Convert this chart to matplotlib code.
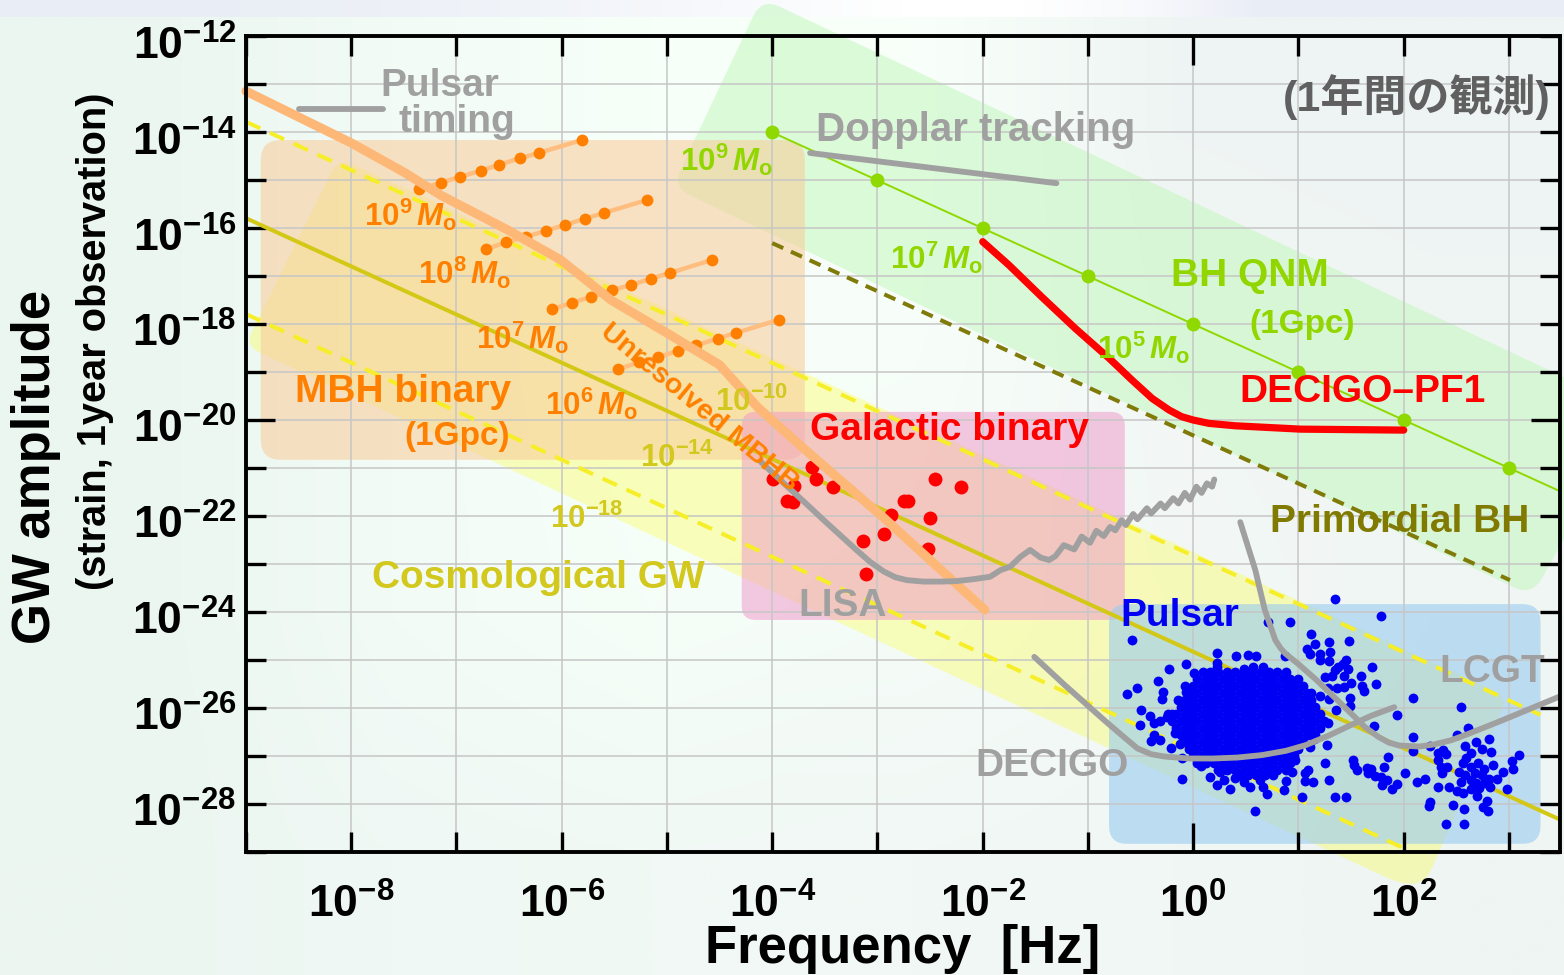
import numpy as np
import matplotlib
matplotlib.use("Agg")
import matplotlib.pyplot as plt
from matplotlib.colors import to_rgb
from matplotlib.ticker import NullLocator
from matplotlib.transforms import ScaledTranslation

plt.rcParams['font.family'] = ['Liberation Sans', 'Noto Sans CJK JP', 'DejaVu Sans']
plt.rcParams['font.weight'] = 'bold'
plt.rcParams['mathtext.fontset'] = 'custom'
plt.rcParams['mathtext.rm'] = 'Liberation Sans:bold'
plt.rcParams['mathtext.bf'] = 'Liberation Sans:bold'
plt.rcParams['mathtext.it'] = 'Liberation Sans:italic:bold'
plt.rcParams['mathtext.bfit'] = 'Liberation Sans:italic:bold'

# ---- all values are log10(frequency [Hz]) and log10(strain) ----
x_ticks = [-9, -8, -7, -6, -5, -4, -3, -2, -1, 0, 1, 2, 3]
x_labelled = [-8, -6, -4, -2, 0, 2]
y_ticks = [-12, -13, -14, -15, -16, -17, -18, -19, -20, -21, -22, -23, -24, -25, -26, -27, -28, -29]
y_labelled = [-12, -14, -16, -18, -20, -22, -24, -26, -28]

mbh_f = [-8.86, -3.69, -3.69, -8.86]
mbh_h = [-14.16, -14.16, -20.83, -20.83]
gal_f = [-4.29, -0.65, -0.65, -4.29]
gal_h = [-19.83, -19.83, -24.17, -24.17]
psr_f = [-0.80, 3.30, 3.30, -0.80]
psr_h = [-23.84, -23.84, -28.84, -28.84]
cosmo_f = [-8.12, 2.99, 2.20, 1.97, -9.01]
cosmo_h = [-14.53, -25.78, -29.68, -29.68, -18.45]
qnm_f = [-4.10, 4.20, 3.22, -4.95]
qnm_h = [-11.20, -19.81, -23.67, -15.14]

cosmo_mid_f = [-9, 3.49]
cosmo_mid_h = [-15.79, -28.34]
cosmo_hi_f = [-9, 3.30]
cosmo_hi_h = [-13.78, -26.15]
cosmo_lo_f = [-9, 2]
cosmo_lo_h = [-17.79, -28.93]
pbh_f = [-4, 3.01]
pbh_h = [-16.31, -23.34]

qnm_line_f = [-4, 3.49]
qnm_line_h = [-14, -21.49]
qnm_pts_f = [-4, -3, -2, -1, 0, 1, 2, 3]
qnm_pts_h = [-14, -15, -16, -17, -18, -19, -20, -21]

decigo_pf1_f = [-2.0, -1.75, -1.44, -1.12, -0.80, -0.58, -0.39, -0.23, -0.11, 0, 0.15, 0.40, 1.02, 1.50, 2.0]
decigo_pf1_h = [-16.28, -16.77, -17.43, -18.09, -18.71, -19.17, -19.55, -19.79, -19.93, -20.0, -20.07, -20.12, -20.19, -20.20, -20.21]

unres_f = [-9, -8, -7.50, -7.15, -6.51, -6.01, -5.53, -5.02, -4.50, -4.14, -3.76, -2.95, -1.98]
unres_h = [-13.14, -14.22, -14.83, -15.31, -16.04, -16.66, -17.50, -18.16, -18.85, -19.73, -20.48, -22.02, -23.96]

track9_f = [-7.36, -7.15, -6.97, -6.77, -6.60, -6.40, -6.22, -5.81]
track9_h = [-15.19, -15.05, -14.93, -14.80, -14.68, -14.54, -14.43, -14.16]
track8_f = [-6.72, -6.53, -6.34, -6.15, -5.97, -5.78, -5.60, -5.19]
track8_h = [-16.44, -16.29, -16.18, -16.05, -15.93, -15.80, -15.68, -15.41]
track7_f = [-6.09, -5.90, -5.72, -5.52, -5.34, -5.15, -4.97, -4.57]
track7_h = [-17.69, -17.55, -17.43, -17.29, -17.18, -17.05, -16.93, -16.66]
track6_f = [-5.47, -5.27, -5.09, -4.90, -4.72, -4.52, -4.34, -3.94]
track6_h = [-18.94, -18.80, -18.69, -18.56, -18.44, -18.30, -18.18, -17.91]

gb_f = [-3.99, -3.79, -3.86, -3.80, -3.62, -3.58, -3.42, -2.87, -2.94, -3.14, -3.11, -2.75, -2.71, -2.45, -2.21, -2.50, -2.52]
gb_h = [-21.22, -21.38, -21.69, -21.70, -20.99, -21.22, -21.39, -21.98, -22.38, -22.52, -23.21, -21.69, -21.69, -21.22, -21.39, -22.04, -22.68]

ptiming_f = [-8.50, -7.70]
ptiming_h = [-13.51, -13.51]
doppler_f = [-3.64, -1.30]
doppler_h = [-14.43, -15.06]
lisa_f = [-4.11, -3.89, -3.70, -3.51, -3.35, -3.20, -3.07, -2.94, -2.83, -2.72, -2.56, -2.40, -2.25, -2.09, -1.93,
          -1.83, -1.74, -1.64, -1.55, -1.45, -1.37, -1.31, -1.23, -1.13, -1.06, -0.98, -0.92, -0.85, -0.79, -0.74,
          -0.68, -0.64, -0.57, -0.53, -0.44, -0.40, -0.31, -0.27, -0.19, -0.14, -0.08, -0.03, 0.03, 0.08, 0.13, 0.18, 0.20]
lisa_h = [-20.87, -21.32, -21.70, -22.09, -22.41, -22.71, -22.96, -23.16, -23.28, -23.34, -23.37, -23.37, -23.36, -23.32, -23.27,
          -23.13, -23.06, -22.85, -22.71, -22.87, -22.92, -22.84, -22.61, -22.70, -22.43, -22.56, -22.31, -22.42, -22.23, -22.30,
          -22.09, -22.19, -21.96, -22.07, -21.84, -21.95, -21.74, -21.84, -21.63, -21.74, -21.52, -21.66, -21.39, -21.52, -21.32, -21.39, -21.24]
decigo_f = [-1.51, -1.22, -0.83, -0.66, -0.53, -0.40, -0.27, -0.04, 0.19, 0.42, 0.65, 0.88, 1.07, 1.30, 1.50, 1.69, 1.91]
decigo_h = [-24.94, -25.53, -26.29, -26.61, -26.85, -26.97, -27.02, -27.06, -27.06, -27.04, -26.99, -26.90, -26.78, -26.57, -26.36, -26.17, -25.99]
lcgt_f = [0.447, 0.59, 0.68, 0.78, 0.83, 0.875, 1.01, 1.17, 1.50, 1.63, 1.76, 1.86, 1.96, 2.15, 2.28, 2.45, 2.61, 2.94, 3.49]
lcgt_h = [-22.13, -23.13, -23.96, -24.59, -24.76, -24.87, -25.11, -25.42, -26.12, -26.40, -26.61, -26.73, -26.79, -26.81, -26.77, -26.68, -26.55, -26.26, -25.76]

psr_pts = [
 (-0.58,-24.58),(1.35,-23.73),(0.92,-24.21),(0.71,-24.21),(1.78,-24.08),(1.12,-24.47),(1.16,-24.67),(1.29,-24.62),(1.48,-24.60),
 (1.08,-24.78),(1.20,-24.87),(1.30,-24.84),(1.11,-24.89),(1.20,-25.01),(1.29,-25.02),(0.87,-24.92),(0.23,-24.85),(0.41,-24.92),
 (0.52,-24.91),(0.60,-24.92),(0.23,-25.06),(0.23,-25.16),(-0.07,-25.09),(-0.23,-25.19),(0.01,-25.27),(0.09,-25.26),(0.48,-25.19),
 (0.57,-25.15),(0.66,-25.15),(1.45,-25.01),(1.42,-25.08),(1.38,-25.15),(1.47,-25.19),(1.35,-25.22),(1.32,-25.34),(1.25,-25.37),
 (1.43,-25.34),(1.70,-25.15),(1.59,-25.33),(1.50,-25.49),(1.43,-25.56),(1.37,-25.58),(1.60,-25.55),(1.62,-25.66),(1.74,-25.50),
 (1.28,-25.58),(1.49,-25.80),(1.49,-25.97),(1.20,-25.76),(1.29,-25.81),(-0.33,-25.45),(-0.53,-25.58),(-0.63,-25.72),(-0.29,-25.67),
 (-0.30,-25.82),(-0.08,-25.55),(-0.07,-25.67),(-0.14,-25.84),(-0.50,-26.04),(-0.41,-26.17),(-0.37,-26.31),(-0.32,-26.27),(-0.51,-26.37),
 (-0.25,-26.19),(-0.20,-26.13),(-0.17,-26.52),(-0.37,-26.58),(-0.40,-26.69),(-0.32,-26.68),(-0.21,-26.84),(-0.13,-26.76),(-0.11,-27.06),
 (-0.11,-27.49),(0.07,-27.21),(0.16,-27.44),(0.25,-27.34),(0.29,-27.51),(0.23,-27.61),(0.35,-27.70),(0.40,-27.47),(0.48,-27.55),
 (0.54,-27.65),(0.63,-27.51),(0.66,-27.65),(0.70,-27.81),(0.59,-28.15),(0.86,-27.72),(0.88,-27.52),(0.94,-27.34),(1.06,-27.36),
 (1.09,-27.30),(1.06,-27.52),(1.14,-27.55),(1.29,-27.50),(1.03,-27.87),(1.35,-27.86),(1.45,-27.86),(1.25,-27.15),(0.97,-27.09),
 (1.11,-26.83),(1.27,-26.78),(1.15,-26.66),(1.28,-26.33),(1.36,-26.05),(1.72,-26.38),(1.94,-26.15),(2.09,-25.79),(2.54,-25.98),
 (2.09,-26.61),(2.25,-26.79),(2.09,-26.90),(1.85,-27.02),(1.52,-27.09),(1.53,-27.20),(1.56,-27.30),(1.65,-27.25),(1.69,-27.28),
 (1.66,-27.37),(1.73,-27.42),(1.81,-27.23),(1.78,-27.45),(1.84,-27.51),(1.79,-27.61),(1.89,-27.70),(1.94,-27.60),(2.01,-27.37),
 (2.13,-27.55),(2.20,-27.49),(2.33,-27.65),(2.43,-27.66),(2.51,-27.74),(2.56,-27.79),(2.25,-27.96),(2.24,-28.05),(2.47,-28.02),
 (2.57,-28.12),(2.75,-28.08),(2.79,-27.95),(2.80,-28.15),(2.40,-28.43),(2.57,-28.43),(2.98,-27.69),(2.70,-27.84),(2.64,-27.70),
 (2.72,-27.68),(2.82,-27.65),(2.89,-27.49),(2.94,-27.34),(3.04,-27.28),(3.03,-27.11),(3.10,-26.98),(2.85,-27.20),(2.83,-26.92),
 (2.81,-26.66),(2.74,-26.87),(2.69,-26.72),(2.61,-26.43),(2.51,-26.58),(2.58,-26.80),(2.64,-26.95),(2.59,-27.06),(2.56,-27.16),
 (2.53,-27.35),(2.58,-27.41),(2.54,-27.56),(2.37,-26.88),(2.40,-26.97),(2.33,-26.95),(2.33,-27.09),(2.41,-27.23),(2.36,-27.36),
 (2.35,-27.23),(2.64,-27.23),(2.71,-27.16),(2.76,-27.27),(2.68,-27.37),(2.74,-27.41),(2.81,-27.48),(2.64,-27.51),(2.69,-27.58),(2.76,-27.58),
]
psr_outer_f = [p[0] for p in psr_pts]
psr_outer_h = [p[1] for p in psr_pts]

# the saturated pulsar cluster, read row by row
core_h = [-25.25, -25.40, -25.54, -25.69, -25.83, -25.98, -26.13, -26.27, -26.42, -26.56, -26.71, -26.86, -27.00, -27.15, -27.30, -27.41]
core_f = [
 [.16,.24,.32,.40,.48,.56,.64,.72,.80,.88],
 [.04,.12,.20,.28,.36,.44,.52,.60,.68,.76,.84,.92,1.00],
 [0,.08,.16,.24,.32,.40,.48,.56,.64,.72,.80,.88,.96,1.04],
 [-.04,.04,.12,.20,.28,.36,.44,.52,.60,.68,.76,.84,.92,1.00,1.08,1.12],
 [-.08,0,.08,.16,.24,.32,.40,.48,.56,.64,.72,.80,.88,.96,1.04,1.12],
 [-.12,-.04,.04,.12,.20,.28,.36,.44,.52,.60,.68,.76,.84,.92,1.00,1.08,1.16],
 [-.24,-.16,-.08,0,.08,.16,.24,.32,.40,.48,.56,.64,.72,.80,.88,.96,1.04,1.12,1.20],
 [-.20,-.12,-.04,.04,.12,.20,.28,.36,.44,.52,.60,.68,.76,.84,.92,1.00,1.08,1.16,1.24],
 [-.16,-.08,0,.08,.16,.24,.32,.40,.48,.56,.64,.72,.80,.88,.96,1.04,1.12,1.20],
 [-.12,-.04,.04,.12,.20,.28,.36,.44,.52,.60,.68,.76,.84,.92,1.00,1.08,1.16],
 [-.08,0,.08,.16,.24,.32,.40,.48,.56,.64,.72,.80,.88,.96,1.04],
 [-.04,.04,.12,.20,.28,.36,.44,.52,.60,.68,.76,.84,.92,1.00],
 [0,.08,.16,.24,.32,.40,.48,.56,.64,.72,.80,.88,.96],
 [.04,.12,.20,.28,.36,.44,.52,.60,.68,.76,.84,.92],
 [.24,.32,.40,.48,.56,.64,.72,.80,.88],
 [.44,.52,.60,.68,.76],
]

# ---- styling ----
W, H = 1564, 975
fig = plt.figure(figsize=(W / 100, H / 100), dpi=100)

bg = fig.add_axes([0, 0, 1, 1], zorder=-1)
bg.axis('off')
bg_cols = [
    ['#ebf6f0', '#f2fbf6', '#f7fff9', '#f9fffa', '#eff5f3', '#eef4f3'],
    ['#ebf6f0', '#f2fbf6', '#f7fff9', '#f7fef9', '#f2f7f5', '#f0f6f4'],
    ['#ebf6f0', '#f2fbf6', '#f6fef8', '#f5fcf8', '#f3f8f6', '#f0f6f3'],
    ['#ecf6f1', '#eff8f4', '#f1f9f5', '#f1f8f5', '#f1f7f4', '#eff5f3'],
]
top_strip = ['#e9edf5', '#e9edf5', '#ebeff6', '#eef1f7', '#f1f4f9', '#f5f7fb', '#fafbfd',
             '#ffffff', '#ffffff', '#f8f9fc', '#e9edf6', '#e9edf6', '#e9edf6']
bg.imshow([[to_rgb(c) for c in row] for row in bg_cols], aspect='auto', interpolation='bilinear',
          extent=(0, W, H, 17))
bg.imshow([[to_rgb(c) for c in top_strip]], aspect='auto', interpolation='bilinear', extent=(0, W, 17, 0))
bg.set_xlim(0, W)
bg.set_ylim(H, 0)

ax = fig.add_axes([246 / W, 1 - 851.5 / H, 1314 / W, 815 / H])
ax.set_facecolor('none')
ax.set_xscale('log')
ax.set_yscale('log')

PX, PY = 105.25, 47.94


def rounded(lf, lh, r=18, n=8):
    p = np.column_stack([np.array(lf) * PX, np.array(lh) * PY])
    out = []
    m = len(p)
    for i in range(m):
        a, b, c = p[i - 1], p[i], p[(i + 1) % m]
        u = (a - b) / np.linalg.norm(a - b)
        v = (c - b) / np.linalg.norm(c - b)
        s, e = b + u * r, b + v * r
        for t in np.linspace(0, 1, n):
            out.append((1 - t) ** 2 * s + 2 * t * (1 - t) * b + t ** 2 * e)
    out = np.array(out)
    return 10 ** (out[:, 0] / PX), 10 ** (out[:, 1] / PY)


def region(lf, lh, color, alpha, r=18):
    x, y = rounded(lf, lh, r)
    ax.fill(x, y, facecolor=color, alpha=alpha, lw=0, zorder=1, clip_on=False)


def L(lf, lh, **kw):
    return ax.plot(10.0 ** np.array(lf), 10.0 ** np.array(lh), **kw)


region(cosmo_f, cosmo_h, (1.0, 1.0, 0.0), 0.25, 16)
region(qnm_f, qnm_h, '#bff7b9', 0.5, 20)
region(mbh_f, mbh_h, '#f8cc9a', 0.57, 20)
region(gal_f, gal_h, '#ef95c8', 0.51, 14)
region(psr_f, psr_h, '#99cbf0', 0.60, 18)

GREY = '#a0a0a0'
L(cosmo_mid_f, cosmo_mid_h, color='#d4c817', lw=2.9, zorder=2)
dash_kw = dict(color='#f6ee28', lw=2.9, dashes=(3.9, 2.6), zorder=2)
L(cosmo_hi_f, cosmo_hi_h, **dash_kw)
L(cosmo_lo_f, cosmo_lo_h, **dash_kw)
L(pbh_f, pbh_h, color='#807a08', lw=2.9, dashes=(3.0, 2.1), zorder=2)

L(qnm_line_f, qnm_line_h, color='#8fd800', lw=1.4, zorder=2.1)
L(qnm_pts_f, qnm_pts_h, ls='none', marker='o', ms=10, mfc='#8fd800', mec='none', zorder=2.2)

ax.scatter(10.0 ** np.array(psr_outer_f), 10.0 ** np.array(psr_outer_h), s=50, color='#0000f5', lw=0, zorder=2.3)
ax.scatter(10.0 ** np.concatenate(core_f), 10.0 ** np.repeat(core_h, [len(r) for r in core_f]),
           s=50, color='#0000f5', lw=0, zorder=2.3)

for tf, th in [(track9_f, track9_h), (track8_f, track8_h), (track7_f, track7_h), (track6_f, track6_h)]:
    L(tf, th, color='#ffbe80', lw=3.2, marker='o', ms=8.5, mfc='#ff8000', mec='none', zorder=2.4)

ax.scatter(10.0 ** np.array(gb_f), 10.0 ** np.array(gb_h), s=100, color='#ff0000', lw=0, zorder=2.5)

L(unres_f, unres_h, color='#fdb877', lw=6.6, solid_capstyle='round', solid_joinstyle='round', zorder=3, clip_on=False)

gk = dict(color=GREY, lw=4.2, solid_capstyle='round', solid_joinstyle='round', zorder=4)
L(ptiming_f, ptiming_h, **gk)
L(doppler_f, doppler_h, **gk)
L(lisa_f, lisa_h, **gk)
L(decigo_f, decigo_h, **gk)
L(lcgt_f, lcgt_h, **gk)
L(decigo_pf1_f, decigo_pf1_h, color='#ff0000', lw=5.2, solid_capstyle='round', solid_joinstyle='round', zorder=4.5)

ax.set_xlim(1e-9, 10 ** 3.485)
ax.set_ylim(10.0 ** -29, 1e-12)

ax.set_xticks(10.0 ** np.array(x_ticks))
ax.set_xticklabels(['$\\mathbf{10^{%d}}$' % e if e in x_labelled else '' for e in x_ticks])
ax.set_yticks(10.0 ** np.array(y_ticks))
ax.set_yticklabels(['$\\mathbf{10^{%d}}$' % e if e in y_labelled else '' for e in y_ticks])
ax.xaxis.set_minor_locator(NullLocator())
ax.yaxis.set_minor_locator(NullLocator())
ax.tick_params(axis='both', which='major', direction='in', length=14.5, width=2.4, top=True, right=True,
               labelsize=32, color='black')
ax.tick_params(axis='x', pad=23)
ax.tick_params(axis='y', pad=7)
for t, e in zip(ax.xaxis.get_major_ticks(), x_ticks):
    if e == 0:
        t.tick1line.set_markersize(21)
        t.tick2line.set_markersize(21)
for t, e in zip(ax.yaxis.get_major_ticks(), y_ticks):
    if e == -20:
        t.tick1line.set_markersize(21)
        t.tick2line.set_markersize(21)
shift_down = ScaledTranslation(0, -6 / 100, fig.dpi_scale_trans)
for lab in ax.get_yticklabels():
    lab.set_transform(lab.get_transform() + shift_down)
ax.grid(True, which='major', color='#c6c6c6', lw=1.1)
for s in ax.spines.values():
    s.set_linewidth(2.8)
    s.set_zorder(6)


def T(x, y, s, color='black', size=28, **kw):
    return fig.text(x / W, 1 - (y + 2.5) / H, s, color=color, fontsize=size, fontweight='bold',
                    ha=kw.pop('ha', 'center'), va=kw.pop('va', 'center'), zorder=10, **kw)


T(903, 947, 'Frequency  [Hz]', size=38)
T(36, 464, 'GW amplitude', size=38, rotation=90)
T(95, 339, '(strain, 1year observation)', size=28.6, rotation=90)

T(440, 83, 'Pulsar', GREY)
T(457, 120, 'timing', GREY)
T(976, 127, 'Dopplar tracking', GREY, 29)
T(843, 604, 'LISA', GREY)
T(1052, 764, 'DECIGO', GREY)
T(1492, 670, 'LCGT', GREY)
T(1417, 95, '(1年間の観測)', '#606060', 31)

GREEN = '#92d600'
T(1250, 274, 'BH QNM', GREEN)
T(1302, 322, '(1Gpc)', GREEN, 24)
T(1363, 389, 'DECIGO–PF1', '#ff0000')
T(949, 427, 'Galactic binary', '#ff0000')
T(1400, 520, 'Primordial BH', '#807a00')
T(1180, 614, 'Pulsar', '#0000f5')
ORANGE = '#ff8000'
T(403, 390, 'MBH binary', ORANGE)
T(457, 434, '(1Gpc)', ORANGE, 24)
T(699, 405, 'Unresolved MBHB', ORANGE, 20.5, rotation=-39.5, rotation_mode='anchor')
OLIVE = '#d2c81e'
T(538, 576, 'Cosmological GW', OLIVE)


def mass(x, y, e, color):
    T(x, y, '$\\mathbf{10^{%d}}\\,\\mathit{M}_{\\mathbf{o}}$' % e, color, 22.5)


mass(411, 212, 9, ORANGE)
mass(465, 270, 8, ORANGE)
mass(523, 335, 7, ORANGE)
mass(592, 401, 6, ORANGE)
mass(727, 157, 9, GREEN)
mass(937, 255, 7, GREEN)
mass(1144, 345, 5, GREEN)
for x, y, e in [(752, 400, -10), (677, 456, -14), (587, 517, -18)]:
    T(x, y, '$\\mathbf{10^{%d}}$' % e, OLIVE, 22.5)

fig.savefig('out.png', dpi=100)
